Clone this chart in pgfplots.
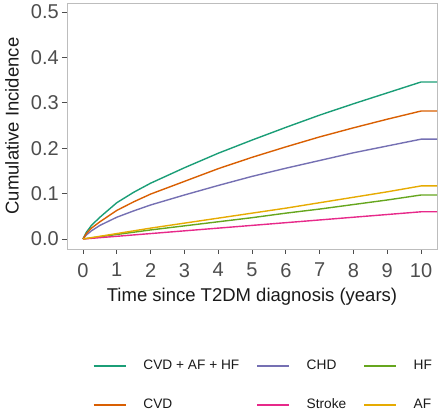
\documentclass[border=0pt]{standalone}
\usepackage{fontspec}
\setmainfont{Liberation Sans}
\usepackage{pgfplots}
\pgfplotsset{compat=1.18}
\definecolor{cA}{HTML}{1B9E77}
\definecolor{cB}{HTML}{D95F02}
\definecolor{cC}{HTML}{7570B3}
\definecolor{cD}{HTML}{E7298A}
\definecolor{cE}{HTML}{66A61E}
\definecolor{cF}{HTML}{E6AB02}
\definecolor{tickgrey}{HTML}{4D4D4D}
\definecolor{titlegrey}{HTML}{1A1A1A}
\definecolor{bordergrey}{HTML}{BDBDBD}
\begin{document}
\begin{tikzpicture}
\useasboundingbox (0bp,0bp) rectangle (440bp,-412bp);
\begin{axis}[
  at={(67bp,-3bp)}, anchor=north west,
  scale only axis, width=370bp, height=246bp,
  xmin=-0.473, xmax=10.47, ymin=-0.022, ymax=0.52,
  xtick={0,1,...,10},
  ytick={0,0.1,0.2,0.3,0.4,0.5},
  yticklabels={0.0,0.1,0.2,0.3,0.4,0.5},
  axis line style={draw=bordergrey, line width=0.8bp},
  tick align=outside, tick pos=left,
  major tick length=5bp,
  tick style={draw=tickgrey, line width=0.8bp},
  ticklabel style={font=\fontsize{20bp}{24bp}\selectfont, text=tickgrey},
  /pgf/number format/assume math mode=true,
  xticklabel style={inner sep=0pt, anchor=north, yshift=-9bp},
  yticklabel style={inner sep=0pt, xshift=-3bp},
  xlabel={Time since T2DM diagnosis (years)},
  ylabel={Cumulative Incidence},
  label style={font=\fontsize{18.5bp}{22bp}\selectfont, text=titlegrey},
  xlabel style={inner sep=0pt, at={(axis description cs:0.5,-0.2154)}, anchor=base},
  ylabel style={inner sep=0pt, at={(axis description cs:-0.1297,0.5)}, anchor=south, rotate=0},
  legend columns=3,
  legend cell align=left,
  legend image code/.code={\draw[#1, line width=1.4bp] (0bp,0bp) -- (32bp,0bp);},
  legend style={
    at={(axis description cs:0.0703,-0.45)}, anchor=north west,
    draw=none, fill=none, inner sep=0pt, outer sep=0pt,
    row sep=26bp,
    text=titlegrey,
    nodes={inner sep=0pt, text height=10bp, text depth=3bp, font=\fontsize{13.7bp}{16bp}\selectfont},
    /tikz/every odd column/.append style={column sep=17bp},
    /tikz/every even column/.append style={column sep=17bp},
  },
  every axis plot/.append style={line width=1.4bp, line join=round},
]
\addplot[cA] coordinates {(0,0) (0.1,0.015) (0.25,0.03) (0.5,0.048) (1,0.08) (1.5,0.103) (2,0.123) (3,0.157) (4,0.189) (5,0.218) (6,0.246) (7,0.273) (8,0.298) (9,0.322) (10,0.346) (10.47,0.346)};
\addlegendentry{CVD + AF + HF}
\addplot[cC] coordinates {(0,0) (0.1,0.009) (0.25,0.018) (0.5,0.03) (1,0.048) (1.5,0.062) (2,0.075) (3,0.097) (4,0.118) (5,0.138) (6,0.156) (7,0.173) (8,0.19) (9,0.205) (10,0.22) (10.47,0.22)};
\addlegendentry{CHD}
\addplot[cE] coordinates {(0,0) (0.5,0.005) (1,0.01) (2,0.02) (3,0.029) (4,0.038) (5,0.047) (6,0.057) (7,0.066) (8,0.076) (9,0.086) (10,0.097) (10.47,0.097)};
\addlegendentry{HF}
\addplot[cB] coordinates {(0,0) (0.1,0.012) (0.25,0.024) (0.5,0.038) (1,0.063) (1.5,0.082) (2,0.099) (3,0.127) (4,0.155) (5,0.18) (6,0.203) (7,0.225) (8,0.245) (9,0.264) (10,0.282) (10.47,0.282)};
\addlegendentry{CVD}
\addplot[cD] coordinates {(0,0) (1,0.006) (2,0.012) (3,0.018) (4,0.024) (5,0.03) (6,0.036) (7,0.042) (8,0.048) (9,0.054) (10,0.06) (10.47,0.06)};
\addlegendentry{Stroke}
\addplot[cF] coordinates {(0,0) (0.5,0.006) (1,0.012) (2,0.024) (3,0.035) (4,0.046) (5,0.057) (6,0.068) (7,0.08) (8,0.092) (9,0.104) (10,0.117) (10.47,0.117)};
\addlegendentry{AF}
\end{axis}
\end{tikzpicture}
\end{document}
